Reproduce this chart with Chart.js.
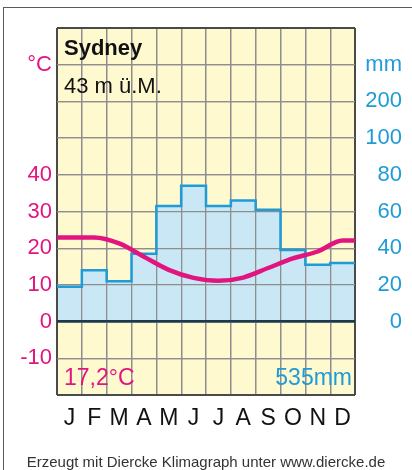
<!DOCTYPE html>
<html>
<head>
<meta charset="utf-8">
<script src="https://cdn.jsdelivr.net/npm/chart.js@4.4.1/dist/chart.umd.min.js"></script>
<style>
  html, body { margin: 0; padding: 0; background: #fff; overflow: hidden; }
  #frame { position: absolute; left: 3px; top: 7px; width: 440px; height: 490px; border: 1.5px solid #5a5a5a; }
  #wrap { position: absolute; left: 0; top: 0; width: 412px; height: 470px; }
</style>
</head>
<body>
<div id="frame"></div>
<div id="wrap"><canvas id="klima" width="412" height="470"></canvas></div>
<script>
var months = ['J', 'F', 'M', 'A', 'M', 'J', 'J', 'A', 'S', 'O', 'N', 'D'];
var temperature = [22.9, 22.9, 21.3, 17.7, 14.1, 11.9, 11.1, 12.0, 14.6, 17.2, 19.1, 22.1];
var precipitation = [19, 28, 22, 37, 63, 74, 63, 66, 61, 39, 31, 32];
// tick labels, left axis from -10 upward in steps of 10, right axis from 0 upward in steps of 20
var tempTickLabels = ['-10', '0', '10', '20', '30', '40', '', '', '°C'];
var precipTickLabels = ['0', '20', '40', '60', '80', '100', '200', 'mm'];

var magenta = '#e2147f';
var blue = '#1f9bd7';
var fontFamily = '"Liberation Sans", Arial, sans-serif';

// temperature at month centres, first/last value carried out to the edges
var tempPoints = [{x: 0, y: temperature[0]}];
temperature.forEach(function(t, i){ tempPoints.push({x: i + 0.5, y: t}); });
tempPoints.push({x: 12, y: temperature[11]});

// precipitation as steps, one per month
var precipPoints = precipitation.map(function(p, i){ return {x: i, y: p}; });
precipPoints.push({x: 12, y: precipitation[11]});

var meanTemp = temperature.reduce(function(a, b){ return a + b; }, 0) / temperature.length;
var sumPrecip = precipitation.reduce(function(a, b){ return a + b; }, 0);

function gridColor(edgeA, edgeB) {
    return function(c) {
        var v = c.tick.value;
        if (v === 0 && edgeA < 0) return '#1d3a4d';
        if (v === edgeA || v === edgeB) return '#4a4a4a';
        return '#8e8e8e';
    };
}
function gridWidth(edgeA, edgeB) {
    return function(c) {
        var v = c.tick.value;
        if (v === 0 && edgeA < 0) return 2.5;
        if (v === edgeA || v === edgeB) return 2;
        return 1.3;
    };
}

//yellow plot background
var plotBackground = {
    id: 'plotBackground',
    beforeDraw: function(chart) {
        var a = chart.chartArea, ctx = chart.ctx;
        ctx.save();
        ctx.fillStyle = '#fff9cf';
        ctx.fillRect(a.left, a.top, a.right - a.left, a.bottom - a.top);
        ctx.restore();
    },
    //grid again over the blue fill
    afterDatasetDraw: function(chart, args) {
        if (args.index !== 2) return;
        chart.scales.x.drawGrid(chart.chartArea);
        chart.scales.y.drawGrid(chart.chartArea);
    }
};

var labels = {
    id: 'labels',
    afterDraw: function(chart) {
        var a = chart.chartArea, ctx = chart.ctx;
        ctx.save();
        ctx.textBaseline = 'middle';
        ctx.textAlign = 'left';
        ctx.fillStyle = '#111';
        ctx.font = 'bold 22px ' + fontFamily;
        ctx.fillText('Sydney', a.left + 7, 49);
        ctx.font = '22px ' + fontFamily;
        ctx.fillText('43 m ü.M.', a.left + 7, 87);

        ctx.font = '23px ' + fontFamily;
        ctx.fillStyle = magenta;
        ctx.fillText(meanTemp.toFixed(1).replace('.', ',') + '°C', a.left + 7, 379);
        ctx.textAlign = 'right';
        ctx.fillStyle = blue;
        ctx.fillText(Math.round(sumPrecip) + 'mm', a.right - 3, 379);

        ctx.textAlign = 'center';
        ctx.fillStyle = '#333';
        ctx.font = '15px ' + fontFamily;
        ctx.fillText('Erzeugt mit Diercke Klimagraph unter www.diercke.de', 206, 463);
        ctx.restore();
    }
};

var ctx = document.getElementById('klima');
var chart = new Chart(ctx, {
    type: 'line',
    data: {
        datasets: [{
            label: 'Temperatur',
            data: tempPoints,
            xAxisID: 'x',
            yAxisID: 'y',
            borderColor: magenta,
            borderWidth: 4.5,
            cubicInterpolationMode: 'monotone',
            pointRadius: 0,
            fill: false,
            order: 0
        }, {
            label: 'Niederschlag',
            data: precipPoints,
            xAxisID: 'x',
            yAxisID: 'yP',
            borderColor: blue,
            borderWidth: 2.5,
            stepped: 'before',
            pointRadius: 0,
            fill: false,
            order: 1
        }, {
            label: 'Niederschlag Fläche',
            data: precipPoints,
            xAxisID: 'x',
            yAxisID: 'yP',
            borderWidth: 0,
            borderColor: 'rgba(0,0,0,0)',
            backgroundColor: '#c9e7f5',
            stepped: 'before',
            pointRadius: 0,
            fill: 'origin',
            order: 2
        }]
    },
    options: {
        responsive: false,
        animation: false,
        layout: { padding: { top: 28, left: 0, right: 10, bottom: 0 } },
        plugins: { legend: { display: false }, tooltip: { enabled: false } },
        scales: {
            x: {
                type: 'linear', min: 0, max: 12, position: 'bottom',
                ticks: { display: false, stepSize: 1 },
                grid: { color: gridColor(0, 12), lineWidth: gridWidth(0, 12), drawTicks: false },
                border: { display: false },
                afterFit: function(s){ s.height = 0; }
            },
            months: {
                type: 'category', labels: months, offset: true, position: 'bottom',
                grid: { display: false, drawTicks: false },
                border: { display: false },
                ticks: { color: '#111', font: { family: fontFamily, size: 23 }, padding: 10,
                         maxRotation: 0, autoSkip: false },
                afterFit: function(s){ s.height = 75; }
            },
            y: {
                type: 'linear', position: 'left', min: -20, max: 80,
                ticks: {
                    stepSize: 10, color: magenta, padding: 5,
                    font: { family: fontFamily, size: 22 },
                    callback: function(v){
                        var i = Math.round((v + 10) / 10);
                        return (i >= 0 && i < tempTickLabels.length) ? tempTickLabels[i] : '';
                    }
                },
                grid: { color: gridColor(-20, 80), lineWidth: gridWidth(-20, 80), drawTicks: false },
                border: { display: false },
                afterFit: function(s){ s.width = 57; }
            },
            yP: {
                type: 'linear', position: 'right', min: -40, max: 160,
                ticks: {
                    stepSize: 20, color: blue, padding: 1, crossAlign: 'far',
                    font: { family: fontFamily, size: 22 },
                    callback: function(v){
                        var i = Math.round(v / 20);
                        return (v >= 0 && i < precipTickLabels.length) ? precipTickLabels[i] : '';
                    }
                },
                grid: { display: false, drawTicks: false },
                border: { display: false },
                afterFit: function(s){ s.width = 47; }
            }
        }
    },
    plugins: [plotBackground, labels]
});
</script>
</body>
</html>
